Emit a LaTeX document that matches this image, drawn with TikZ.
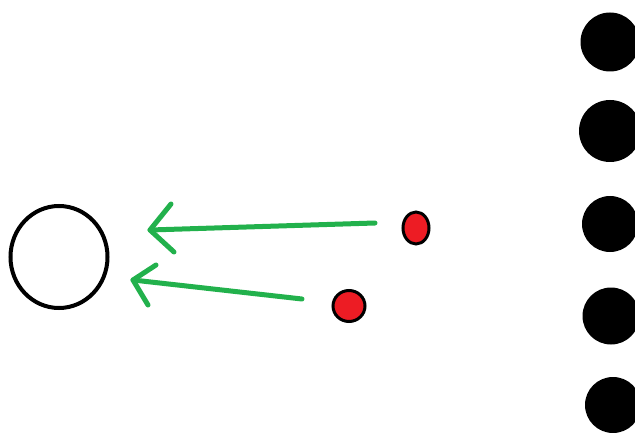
\documentclass[tikz,border=0pt]{standalone}
\usetikzlibrary{shapes.geometric}
\definecolor{paintgreen}{HTML}{22B14C}
\definecolor{paintred}{HTML}{ED1C24}
\begin{document}
\begin{tikzpicture}[x=1pt,y=-1pt,
  target/.style={draw=black, line width=4pt, ellipse, inner sep=0pt, minimum width=97pt, minimum height=102pt},
  reddot/.style={draw=black, fill=paintred, line width=3pt, ellipse, inner sep=0pt},
  blackdot/.style={fill=black, circle, inner sep=0pt},
  greenarrow/.style={draw=paintgreen, line width=5pt, line cap=round, line join=round}]
\useasboundingbox (0,0) rectangle (635,433);
\fill[white] (0,0) rectangle (635,433);
\node[target] (ring) at (59,257) {};
\node[reddot, minimum width=26pt, minimum height=32pt] (r1) at (416,228) {};
\node[reddot, minimum width=32pt, minimum height=31pt] (r2) at (349,306) {};
\node[blackdot, minimum size=59pt] (b1) at (610,42) {};
\node[blackdot, minimum size=62pt] (b2) at (610,131) {};
\node[blackdot, minimum size=56pt] (b3) at (610,224) {};
\node[blackdot, minimum size=57pt] (b4) at (611,316) {};
\node[blackdot, minimum size=56pt] (b5) at (613,405) {};
% arrow 1
\coordinate (a1s) at (375,223);
\coordinate (a1t) at (150,230);
\coordinate (a1u) at (171,204);
\coordinate (a1l) at (174,252);
\draw[greenarrow] (a1s) -- (a1t);
\draw[greenarrow] (a1u) -- (a1t) -- (a1l);
% arrow 2
\coordinate (a2s) at (302,299);
\coordinate (a2t) at (133,280);
\coordinate (a2u) at (156,265);
\coordinate (a2l) at (148,305);
\draw[greenarrow] (a2s) -- (a2t);
\draw[greenarrow] (a2u) -- (a2t) -- (a2l);
\end{tikzpicture}
\end{document}
